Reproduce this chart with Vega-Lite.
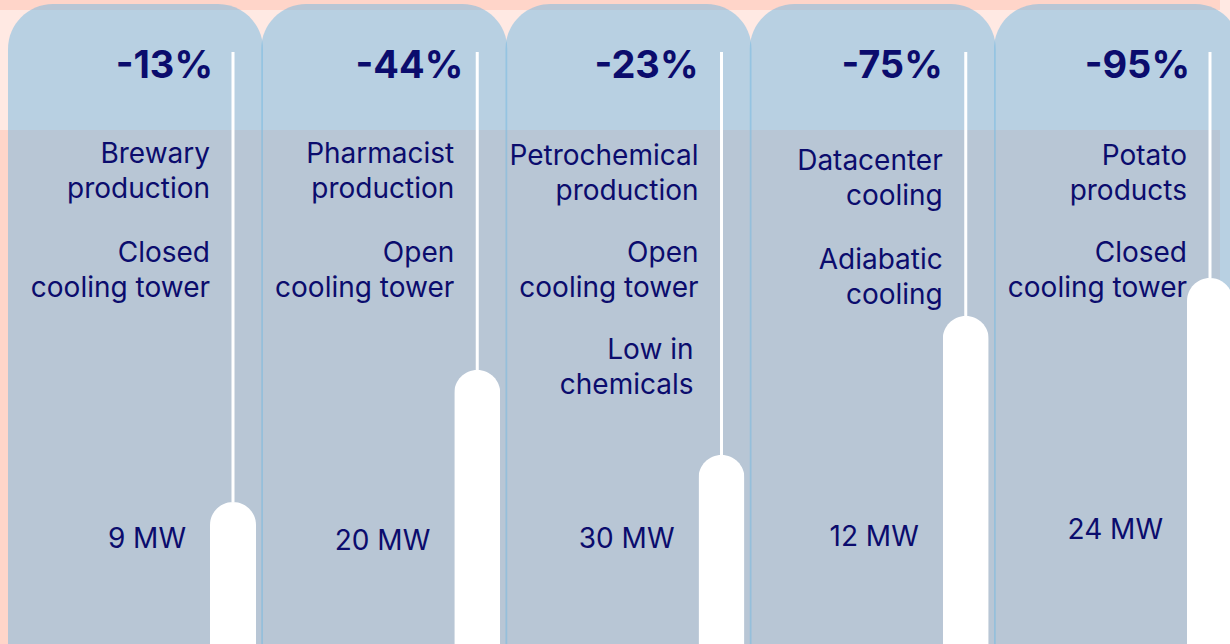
{
  "$schema": "https://vega.github.io/schema/vega-lite/v6.json",
  "width": 1230,
  "height": 644,
  "autosize": {"type": "fit", "contains": "padding"},
  "padding": 0,
  "background": "#ffe9e3",
  "config": {"view": {"stroke": null}, "axis": {"disable": true}, "text": {"font": "Inter", "color": "#0b0c6d"}},
  "datasets": {
    "sites": [
      {"site": "Brewary", "change": "-13%", "industry": "Brewary\nproduction", "cooling": "Closed\ncooling tower", "extra": "", "power": "9 MW", "level": 142},
      {"site": "Pharmacist", "change": "-44%", "industry": "Pharmacist\nproduction", "cooling": "Open\ncooling tower", "extra": "", "power": "20 MW", "level": 274},
      {"site": "Petrochemical", "change": "-23%", "industry": "Petrochemical\nproduction", "cooling": "Open\ncooling tower", "extra": "Low in\nchemicals", "power": "30 MW", "level": 189},
      {"site": "Datacenter", "change": "-75%", "industry": "Datacenter\ncooling", "cooling": "Adiabatic\ncooling", "extra": "", "power": "12 MW", "level": 328},
      {"site": "Potato", "change": "-95%", "industry": "Potato\nproducts", "cooling": "Closed\ncooling tower", "extra": "", "power": "24 MW", "level": 366}
    ],
    "band": [{"zone": "band"}]
  },
  "data": {"name": "sites"},
  "layer": [
    {
      "data": {"name": "band"},
      "mark": {"type": "rect", "color": "#ffd5c9"},
      "encoding": {
        "y": {"datum": 634, "type": "quantitative", "scale": {"domain": [0, 644], "nice": false, "zero": true}},
        "y2": {"datum": 644}
      }
    },
    {
      "data": {"name": "band"},
      "mark": {"type": "rect", "color": "#ffd5c9"},
      "encoding": {
        "y": {"datum": 0, "type": "quantitative"},
        "y2": {"datum": 514}
      }
    },
    {
      "mark": {"type": "bar", "color": "#71b7e1", "opacity": 0.5,
        "width": {"expr": "datum.site === 'Brewary' ? 255 : 246"},
        "xOffset": {"expr": "datum.site === 'Brewary' ? -97.5 : -93"},
        "cornerRadiusTopLeft": 45, "cornerRadiusTopRight": 45},
      "encoding": {
        "x": {"field": "site", "type": "nominal", "scale": {"type": "point", "domain": ["Brewary", "Pharmacist", "Petrochemical", "Datacenter", "Potato"], "range": [233, 1210], "padding": 0}},
        "y": {"datum": 0, "type": "quantitative"},
        "y2": {"datum": 640}
      }
    },
    {
      "mark": {"type": "rule", "color": "white", "strokeWidth": 3},
      "encoding": {
        "x": {"field": "site", "type": "nominal"},
        "y": {"field": "level", "type": "quantitative"},
        "y2": {"datum": 592}
      }
    },
    {
      "mark": {"type": "bar", "color": "white", "width": 46, "cornerRadiusTopLeft": 23, "cornerRadiusTopRight": 23},
      "encoding": {
        "x": {"field": "site", "type": "nominal"},
        "y": {"field": "level", "type": "quantitative"}
      }
    },
    {
      "mark": {"type": "text", "align": "right", "baseline": "alphabetic", "fontSize": 38, "fontWeight": "bold",
        "xOffset": {"expr": "datum.site === 'Pharmacist' ? -14 : datum.site === 'Petrochemical' || datum.site === 'Datacenter' ? -23 : -20"}},
      "encoding": {
        "x": {"field": "site", "type": "nominal"},
        "y": {"datum": 566, "type": "quantitative"},
        "text": {"field": "change"}
      }
    },
    {
      "mark": {"type": "text", "align": "right", "baseline": "alphabetic", "fontSize": 28, "lineBreak": "\n", "lineHeight": 35, "xOffset": -23,
        "yOffset": {"expr": "datum.site === 'Datacenter' ? 7 : datum.site === 'Brewary' || datum.site === 'Pharmacist' ? 0 : 2"}},
      "encoding": {
        "x": {"field": "site", "type": "nominal"},
        "y": {"datum": 481, "type": "quantitative"},
        "text": {"field": "industry"}
      }
    },
    {
      "mark": {"type": "text", "align": "right", "baseline": "alphabetic", "fontSize": 28, "lineBreak": "\n", "lineHeight": 35, "xOffset": -23,
        "yOffset": {"expr": "datum.site === 'Datacenter' ? 7 : 0"}},
      "encoding": {
        "x": {"field": "site", "type": "nominal"},
        "y": {"datum": 382, "type": "quantitative"},
        "text": {"field": "cooling"}
      }
    },
    {
      "mark": {"type": "text", "align": "right", "baseline": "alphabetic", "fontSize": 28, "lineBreak": "\n", "lineHeight": 35, "xOffset": -28},
      "encoding": {
        "x": {"field": "site", "type": "nominal"},
        "y": {"datum": 285, "type": "quantitative"},
        "text": {"field": "extra"}
      }
    },
    {
      "mark": {"type": "text", "align": "right", "baseline": "alphabetic", "fontSize": 28, "xOffset": -47,
        "yOffset": {"expr": "datum.site === 'Potato' ? -9 : datum.site === 'Pharmacist' ? 2 : datum.site === 'Datacenter' ? -2 : 0"}},
      "encoding": {
        "x": {"field": "site", "type": "nominal"},
        "y": {"datum": 96, "type": "quantitative"},
        "text": {"field": "power"}
      }
    }
  ]
}
